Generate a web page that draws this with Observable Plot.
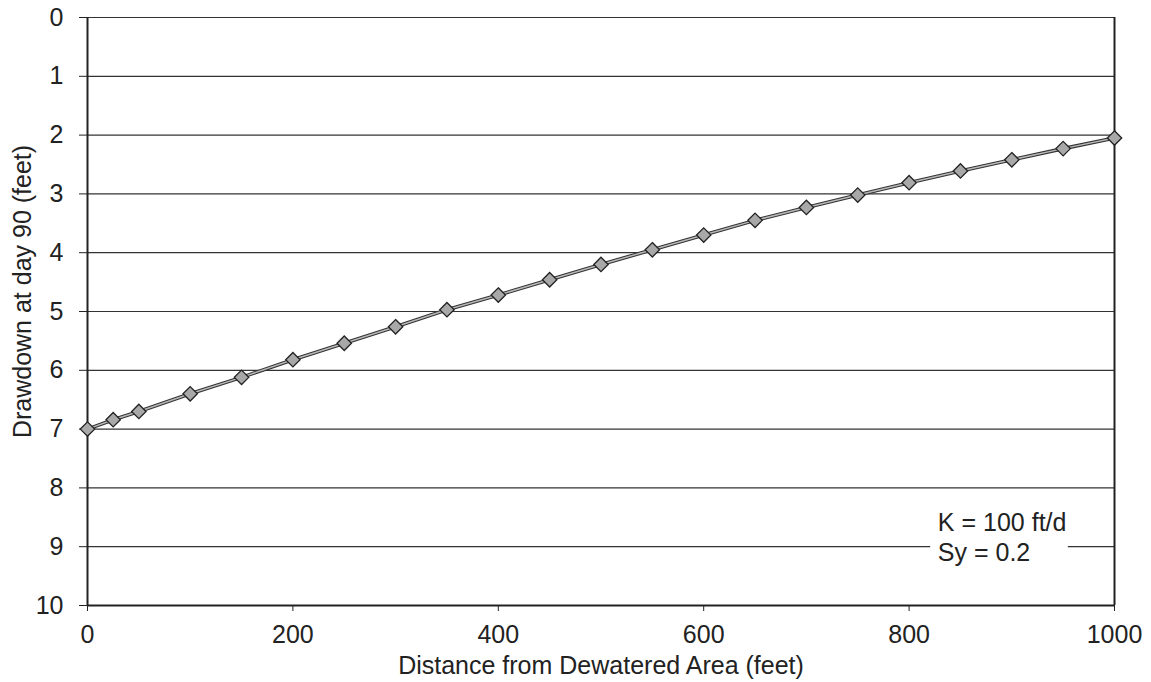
<!DOCTYPE html>
<html>
<head>
<meta charset="utf-8">
<script src="https://cdn.jsdelivr.net/npm/d3@7"></script>
<script src="https://cdn.jsdelivr.net/npm/@observablehq/plot@0.6"></script>
<style>
  html, body { margin: 0; padding: 0; background: #fff; }
  #chart svg { display: block; }
</style>
</head>
<body>
<div id="chart"></div>
<script>
// Distance from the dewatered area (feet) and drawdown after 90 days (feet)
const distance = [0, 25, 50, 100, 150, 200, 250, 300, 350, 400, 450, 500, 550, 600, 650, 700, 750, 800, 850, 900, 950, 1000];
const drawdown = [7.00, 6.84, 6.70, 6.40, 6.12, 5.82, 5.54, 5.26, 4.97, 4.72, 4.46, 4.20, 3.95, 3.70, 3.45, 3.23, 3.02, 2.81, 2.61, 2.42, 2.23, 2.05];

const xTicks = [0, 200, 400, 600, 800, 1000];
const yTicks = [0, 1, 2, 3, 4, 5, 6, 7, 8, 9, 10];

const xLabel = "Distance from Dewatered Area (feet)";
const yLabel = "Drawdown at day 90 (feet)";
const noteText = "K = 100 ft/d\nSy = 0.2";
// annotation anchors and the note's white backing box, in data units
const notePos = {x: 828, y: 8.83};
const noteBox = {x1: 821, x2: 955, y1: 8.3, y2: 9.6};
const yLabelPos = {x: -63, y: 4.66};

const rows = distance.map((d, i) => ({distance: d, drawdown: drawdown[i]}));

const font = "'Liberation Sans', Arial, sans-serif";
const ink = "#222";

const chart = Plot.plot({
  width: 1151,
  height: 682,
  marginLeft: 87,
  marginRight: 37,
  marginTop: 17,
  marginBottom: 77,
  style: {fontFamily: font, fontSize: "25px", color: ink, background: "#fff"},
  x: {domain: [0, 1000]},
  y: {domain: [0, 10], reverse: true},
  marks: [
    Plot.gridY(yTicks, {stroke: "#333", strokeOpacity: 1, strokeWidth: 1.2}),
    Plot.rect([noteBox], {x1: "x1", x2: "x2", y1: "y1", y2: "y2", fill: "#fff"}),
    Plot.ruleX([0, 1000], {stroke: "#222", strokeWidth: 2}),
    Plot.ruleY([10], {stroke: "#222", strokeWidth: 2}),
    Plot.axisY({ticks: yTicks, tickSize: 8, tickPadding: 16, fontSize: 25, label: null, stroke: "#222", tickFormat: d => String(d)}),
    Plot.axisX({ticks: xTicks, tickSize: 6, tickPadding: 14, fontSize: 25, label: null, stroke: "#222", tickFormat: d => String(d)}),
    Plot.line(rows, {x: "distance", y: "drawdown", stroke: "#333", strokeWidth: 3.6}),
    Plot.line(rows, {x: "distance", y: "drawdown", stroke: "#b8b8b8", strokeWidth: 1.5}),
    Plot.dot(rows, {x: "distance", y: "drawdown", symbol: "diamond2", r: 6.5, fill: "#a8a8a8", stroke: "#222", strokeWidth: 1.3}),
    Plot.text([noteText], {x: () => notePos.x, y: () => notePos.y, textAnchor: "start", lineAnchor: "middle", lineHeight: 1.2, fontSize: 25, fill: ink}),
    Plot.text([xLabel], {frameAnchor: "bottom", dy: 60, lineAnchor: "middle", fontSize: 25, fill: ink}),
    Plot.text([yLabel], {x: () => yLabelPos.x, y: () => yLabelPos.y, rotate: -90, textAnchor: "middle", lineAnchor: "middle", fontSize: 25, fill: ink})
  ]
});

document.getElementById("chart").appendChild(chart);
</script>
</body>
</html>
